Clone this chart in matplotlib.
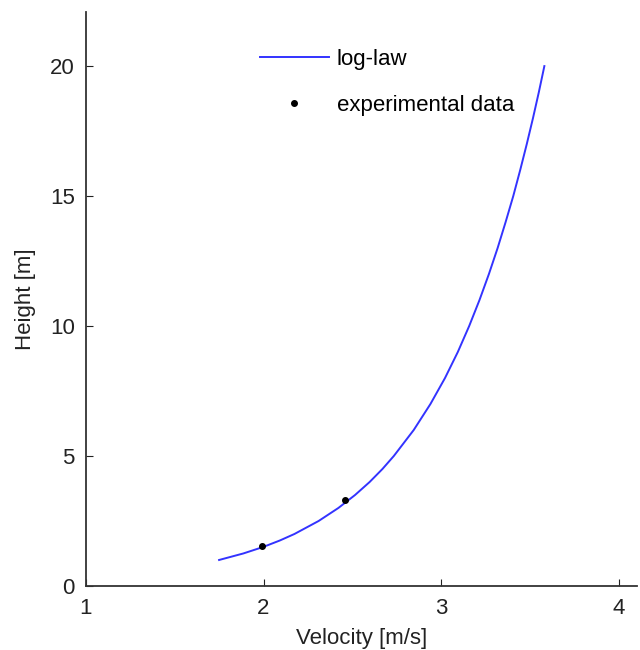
import matplotlib.pyplot as plt
import numpy as np

# log-law profile
height = [1, 1.25, 1.5, 1.75, 2, 2.5, 3, 3.5, 4, 4.5, 5, 6, 7, 8, 9, 10,
          11, 12, 13, 14, 15, 16, 17, 18, 19, 20]
velocity = [1.75, 1.886, 1.998, 2.092, 2.174, 2.310, 2.421, 2.515, 2.597, 2.669,
            2.733, 2.845, 2.939, 3.021, 3.093, 3.157, 3.215, 3.268, 3.317, 3.362,
            3.405, 3.444, 3.481, 3.516, 3.549, 3.580]

# measured points
exp_velocity = [1.99, 2.46]
exp_height = [1.55, 3.3]

plt.rcParams['font.family'] = ['Liberation Sans', 'DejaVu Sans']

fig = plt.figure(figsize=(6.4, 6.5), dpi=100)
ax = fig.add_axes([0.134, 0.0985, 0.861, 0.883])

ax.plot(velocity, height, color='#3333ff', lw=1.4, label='log-law')
ax.plot(exp_velocity, exp_height, 'k.', ms=8, label='experimental data')

ax.set_xlim(1, 4.1)
ax.set_ylim(0, 22.08)
ax.set_xticks([1, 2, 3, 4])
ax.set_yticks([0, 5, 10, 15, 20])
ax.tick_params(direction='in', length=5, labelsize=16, colors='#222222')
ax.tick_params(axis='x', pad=9)
ax.tick_params(axis='y', pad=8)
for s in ['top', 'right']:
    ax.spines[s].set_visible(False)
for s in ['left', 'bottom']:
    ax.spines[s].set_color('#333333')
    ax.spines[s].set_linewidth(1.3)

ax.set_xlabel('Velocity [m/s]', fontsize=16, color='#222222', labelpad=6)
ax.set_ylabel('Height [m]', fontsize=16, color='#222222', labelpad=10)

ax.legend(loc='upper left', bbox_to_anchor=(0.28, 0.97), frameon=False,
          fontsize=16, handlelength=3.1, labelspacing=1.1, handletextpad=0.35)

fig.savefig('out.png', dpi=100)
